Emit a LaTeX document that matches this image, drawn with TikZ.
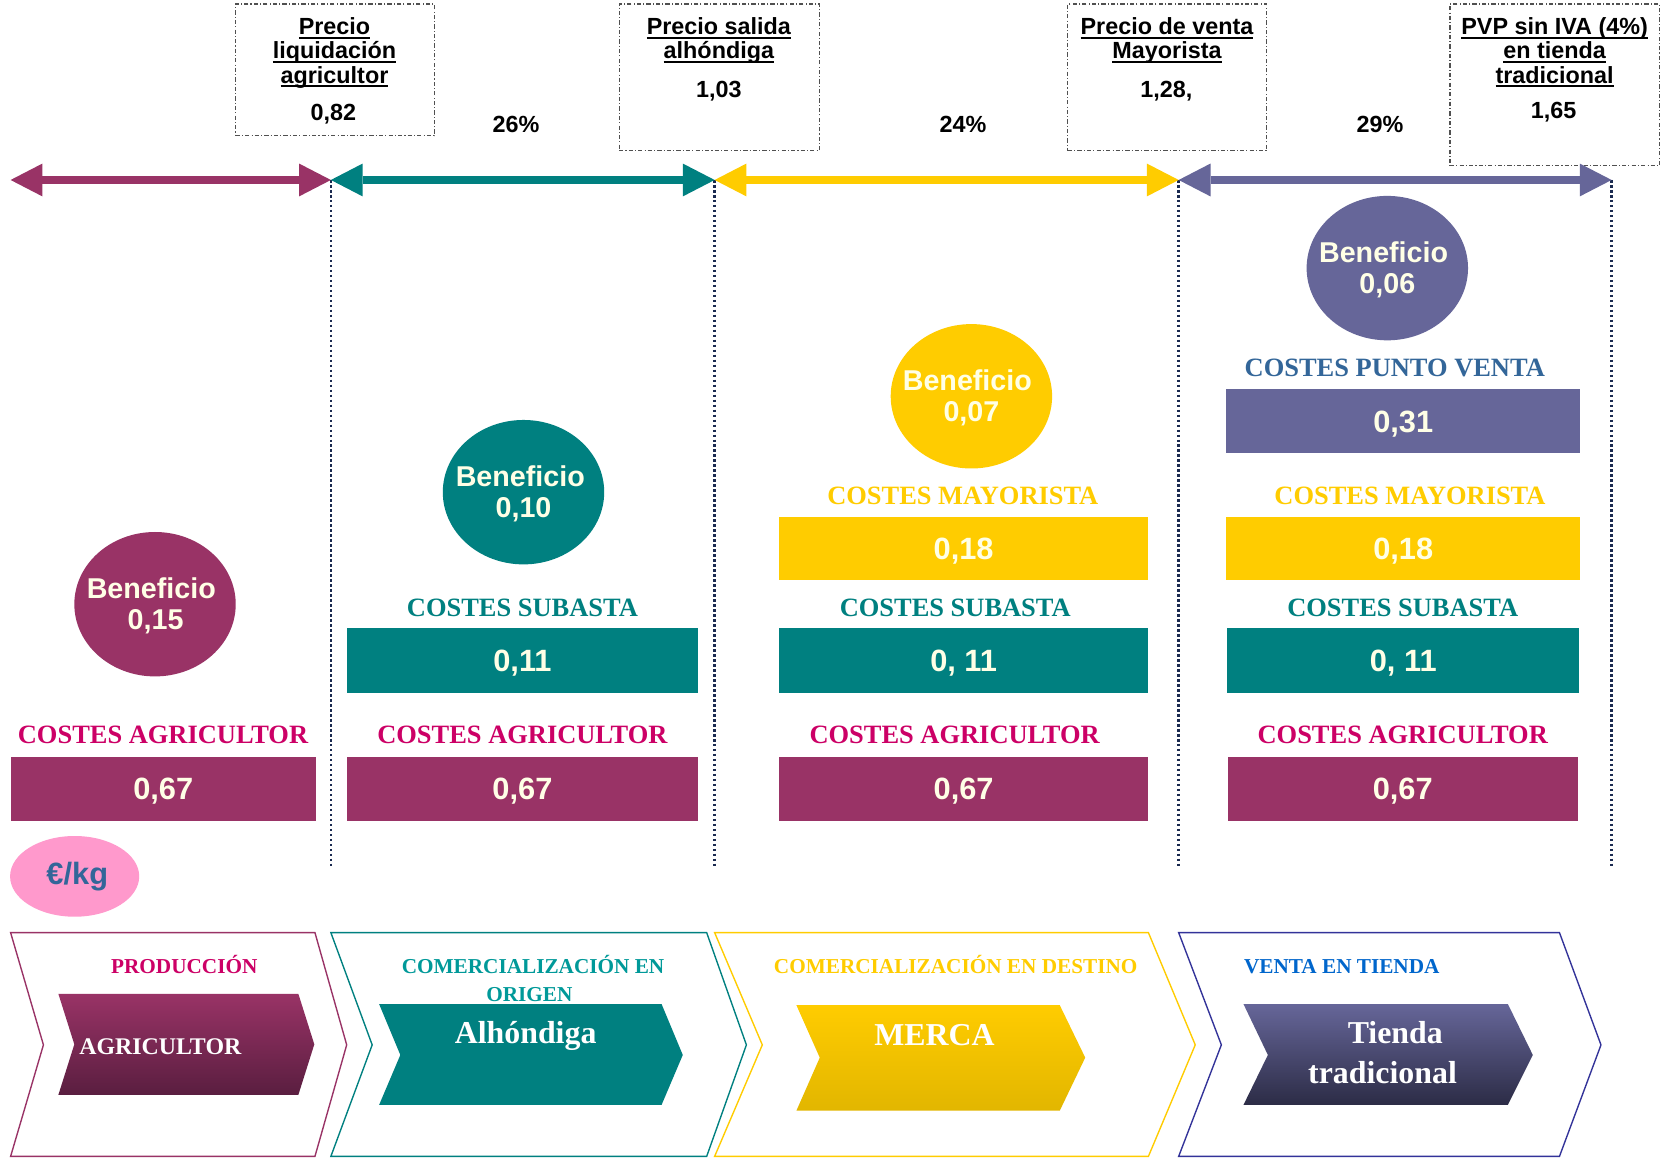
\documentclass[tikz,border=0pt]{standalone}
\usepackage{fontspec}
\setmainfont{Liberation Serif}
\setsansfont{Liberation Sans}
\usetikzlibrary{arrows.meta,shapes.geometric}
\definecolor{mag}{HTML}{993366}
\definecolor{magdark}{HTML}{5A1E40}
\definecolor{tealc}{HTML}{008080}
\definecolor{yel}{HTML}{FFCC00}
\definecolor{yeldark}{HTML}{E2B600}
\definecolor{pur}{HTML}{666699}
\definecolor{purdark}{HTML}{2C2C46}
\definecolor{pinklab}{HTML}{CC0066}
\definecolor{bluelab}{HTML}{336699}
\definecolor{cream}{HTML}{FFFFE6}
\definecolor{navy}{HTML}{1A2A50}
\definecolor{pinkell}{HTML}{FF99CC}
\definecolor{chevteal}{HTML}{009999}
\definecolor{ventablue}{HTML}{0066CC}
\definecolor{chevnavy}{HTML}{333399}
\definecolor{boxgray}{HTML}{505050}
\newsavebox\ulbox
\newcommand\myul[1]{\sbox\ulbox{#1}\rlap{\rule[-4pt]{\wd\ulbox}{1.8pt}}\usebox\ulbox}
\begin{document}
\begin{tikzpicture}[x=1pt,y=-1pt,
  pricebox/.style={draw=boxgray, line width=1pt, dash pattern=on 4pt off 2pt on 1pt off 2pt, inner sep=0pt},
  boxtxt/.style={font=\sffamily\bfseries\fontsize{22}{23}\selectfont, anchor=base, inner sep=0pt},
  benef/.style={ellipse, minimum width=152pt, minimum height=136pt, inner sep=0pt},
  beneftxt/.style={font=\sffamily\bfseries\fontsize{27}{29}\selectfont, text=cream, anchor=base, inner sep=0pt},
  bar/.style={inner sep=0pt, font=\sffamily\bfseries\fontsize{29}{29}\selectfont, text=cream, text height=20.8pt, text depth=0pt},
  costlab/.style={font=\bfseries\fontsize{24.9}{25}\selectfont, anchor=base, inner sep=0pt},
  chevtitle/.style={font=\bfseries\fontsize{20}{20}\selectfont, anchor=base, inner sep=0pt},
  chevtxt/.style={font=\bfseries\fontsize{30}{30}\selectfont, anchor=base, inner sep=0pt, text=white},
  chevout/.style={line width=1.3pt},
  vdot/.style={draw=navy, line width=2.6pt, dash pattern=on 2.4pt off 2.3pt},
  dblarr/.style={line width=7pt, >={Triangle[length=30pt,width=31pt,line width=0pt]}, <->}
]
\fill[white] (0,0) rectangle (1568,1091);
\useasboundingbox (0,0) rectangle (1568,1091);

% ---------- price boxes ----------
\node[pricebox, minimum width=186.9pt, minimum height=124.2pt] (pb1) at (315.35,65.9) {};
\node[pricebox, minimum width=188.7pt, minimum height=138.2pt] (pb2) at (677.35,72.9) {};
\node[pricebox, minimum width=187.1pt, minimum height=138.2pt] (pb3) at (1099.25,72.9) {};
\node[pricebox, minimum width=197.4pt, minimum height=152.2pt] (pb4) at (1464.2,79.9) {};

\node[boxtxt] (t1a) at (315,32.3) {\myul{Precio}};
\node[boxtxt] (t1b) at (315,55.3) {\myul{liquidación}};
\node[boxtxt] (t1c) at (315,78.3) {\myul{agricultor}};
\node[boxtxt] (t1v) at (314,113.6) {0,82};

\node[boxtxt] (t2a) at (677,32.3) {\myul{Precio salida}};
\node[boxtxt] (t2b) at (677,55.3) {\myul{alhóndiga}};
\node[boxtxt] (t2v) at (677,91.7) {1,03};

\node[boxtxt] (t3a) at (1099,32.3) {\myul{Precio de venta}};
\node[boxtxt] (t3b) at (1099,55.3) {\myul{Mayorista}};
\node[boxtxt] (t3v) at (1098.5,91.7) {1,28,};

\node[boxtxt] (t4a) at (1464,32.3) {\myul{PVP sin IVA (4\%)}};
\node[boxtxt] (t4b) at (1464,55.3) {\myul{en tienda}};
\node[boxtxt] (t4c) at (1464,78.3) {\myul{tradicional}};
\node[boxtxt] (t4v) at (1463,111.4) {1,65};

\node[boxtxt] (p1) at (486,125) {26\%};
\node[boxtxt] (p2) at (907,125) {24\%};
\node[boxtxt] (p3) at (1299.6,125) {29\%};

% ---------- vertical dotted lines ----------
\coordinate (v1t) at (311.6,169.5); \coordinate (v1b) at (311.6,817.6);
\coordinate (v2t) at (673,169.5);   \coordinate (v2b) at (673,817.6);
\coordinate (v3t) at (1110,169.5);  \coordinate (v3b) at (1110,817.6);
\coordinate (v4t) at (1517.7,169.5);\coordinate (v4b) at (1517.7,817.6);
\draw[vdot] (v1t) -- (v1b);
\draw[vdot] (v2t) -- (v2b);
\draw[vdot] (v3t) -- (v3b);
\draw[vdot] (v4t) -- (v4b);

% ---------- arrows ----------
\coordinate (a0) at (10,169.5);
\draw[dblarr, mag] (a0) -- (v1t);
\draw[dblarr, tealc] (v1t) -- (v2t);
\draw[dblarr, yel] (v2t) -- (v3t);
\draw[dblarr, pur] (v3t) -- (v4t);

% ---------- beneficio ellipses ----------
\node[benef, fill=mag] (e1) at (146,569) {};
\node[beneftxt] (e1a) at (142.5,564) {Beneficio};
\node[beneftxt] (e1b) at (146.5,592.5) {0,15};
\node[benef, fill=tealc] (e2) at (493,463.5) {};
\node[beneftxt] (e2a) at (490,458.5) {Beneficio};
\node[beneftxt] (e2b) at (493,487) {0,10};
\node[benef, fill=yel] (e3) at (914.8,373.2) {};
\node[beneftxt] (e3a) at (911,368) {Beneficio};
\node[beneftxt] (e3b) at (914.8,396.5) {0,07};
\node[benef, fill=pur] (e4) at (1306.5,252.5) {};
\node[beneftxt] (e4a) at (1303,247.5) {Beneficio};
\node[beneftxt] (e4b) at (1306.5,276) {0,06};

% ---------- column 1 ----------
\node[costlab, text=pinklab] (l1a) at (153.5,700.6) {COSTES AGRICULTOR};
\node[bar, fill=mag, minimum width=287.5pt, minimum height=60.3pt] (b1a) at (153.75,742.6) {0,67};

% ---------- column 2 ----------
\node[costlab, text=tealc] (l2s) at (492,580.4) {COSTES SUBASTA};
\node[bar, fill=tealc, minimum width=330pt, minimum height=60.6pt] (b2s) at (492,622) {0,11};
\node[costlab, text=pinklab] (l2a) at (492,700.6) {COSTES AGRICULTOR};
\node[bar, fill=mag, minimum width=330pt, minimum height=60.3pt] (b2a) at (492,742.6) {0,67};

% ---------- column 3 ----------
\node[costlab, text=yel] (l3m) at (906.7,474.9) {COSTES MAYORISTA};
\node[bar, fill=yel, minimum width=347pt, minimum height=59.5pt] (b3m) at (907.5,516.7) {0,18};
\node[costlab, text=tealc] (l3s) at (899.6,580.4) {COSTES SUBASTA};
\node[bar, fill=tealc, minimum width=347pt, minimum height=60.6pt] (b3s) at (907.5,622) {0, 11};
\node[costlab, text=pinklab] (l3a) at (899,700.6) {COSTES AGRICULTOR};
\node[bar, fill=mag, minimum width=347pt, minimum height=60.3pt] (b3a) at (907.5,742.6) {0,67};

% ---------- column 4 ----------
\node[costlab, text=bluelab] (l4p) at (1313.5,354.5) {COSTES PUNTO VENTA};
\node[bar, fill=pur, minimum width=333pt, minimum height=60.3pt] (b4p) at (1321.5,396.5) {0,31};
\node[costlab, text=yel] (l4m) at (1327.8,474.9) {COSTES MAYORISTA};
\node[bar, fill=yel, minimum width=333pt, minimum height=59.5pt] (b4m) at (1321.5,516.7) {0,18};
\node[costlab, text=tealc] (l4s) at (1321,580.4) {COSTES SUBASTA};
\node[bar, fill=tealc, minimum width=331.5pt, minimum height=60.6pt] (b4s) at (1321.5,622) {0, 11};
\node[costlab, text=pinklab] (l4a) at (1321,700.6) {COSTES AGRICULTOR};
\node[bar, fill=mag, minimum width=330pt, minimum height=60.3pt] (b4a) at (1321,742.6) {0,67};

% ---------- unit ----------
\node[ellipse, fill=pinkell, minimum width=121.6pt, minimum height=76pt, inner sep=0pt,
      font=\sffamily\bfseries\fontsize{29}{29}\selectfont, text=bluelab] (unit) at (70.3,825.3) {\hspace{5pt}€/kg};

% ---------- bottom chevrons ----------
\draw[chevout, mag] (10,878.3) -- (296.6,878.3) -- (326.5,984) -- (296.6,1089) -- (10,1089) -- (40.9,984) -- cycle;
\draw[chevout, tealc] (311.6,878.3) -- (665.5,878.3) -- (702.9,984) -- (665.5,1089) -- (311.6,1089) -- (350.5,984) -- cycle;
\draw[chevout, yel] (673,878.3) -- (1081.5,878.3) -- (1125.6,984) -- (1081.5,1089) -- (673,1089) -- (717.9,984) -- cycle;
\draw[chevout, chevnavy] (1110,878.3) -- (1468.6,878.3) -- (1507.7,984) -- (1468.6,1089) -- (1110,1089) -- (1150.2,984) -- cycle;

\shade[top color=mag, bottom color=magdark] (55,936) -- (281,936) -- (296,983.5) -- (281,1031) -- (55,1031) -- (70,983.5) -- cycle;
\fill[tealc] (357,945.5) -- (623,945.5) -- (643,993.5) -- (623,1040.6) -- (357,1040.6) -- (377,993.5) -- cycle;
\shade[top color=yel, bottom color=yeldark] (750,946.6) -- (998,946.6) -- (1022,996) -- (998,1046) -- (750,1046) -- (772,996) -- cycle;
\shade[top color=pur, bottom color=purdark] (1171,945.5) -- (1420,945.5) -- (1443.5,993.5) -- (1420,1040.6) -- (1171,1040.6) -- (1194,993.5) -- cycle;

\node[chevtitle, text=pinklab] (c1t) at (173.5,917) {PRODUCCIÓN};
\node[chevtitle, text=chevteal] (c2t) at (502,917) {COMERCIALIZACIÓN EN};
\node[chevtitle, text=chevteal] (c2u) at (498.5,943) {ORIGEN};
\node[chevtitle, text=yel] (c3t) at (900,917) {COMERCIALIZACIÓN EN DESTINO};
\node[chevtitle, text=ventablue] (c4t) at (1263.6,917) {VENTA EN TIENDA};

\node[chevtxt, font=\bfseries\fontsize{22.5}{22.5}\selectfont] (c1x) at (151,993.5) {AGRICULTOR};
\node[chevtxt] (c2x) at (495,982.5) {Alhóndiga};
\node[chevtxt] (c3x) at (880,985) {MERCA};
\node[chevtxt] (c4x) at (1314,983) {Tienda};
\node[chevtxt] (c4y) at (1302,1020) {tradicional};
\end{tikzpicture}
\end{document}
